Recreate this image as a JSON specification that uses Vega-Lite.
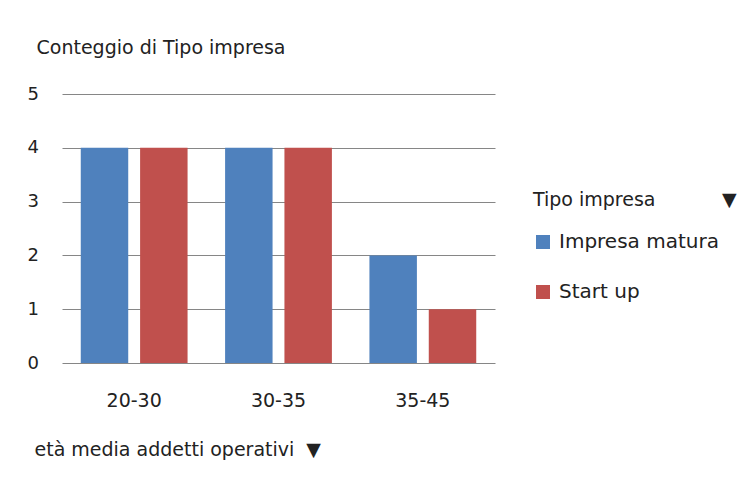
{
  "$schema": "https://vega.github.io/schema/vega-lite/v6.json",
  "width": 433,
  "height": 269,
  "autosize": {"type": "none"},
  "padding": {"left": 62, "top": 94, "right": 257, "bottom": 114},
  "background": "white",
  "data": {
    "values": [
      {"eta": "20-30", "tipo": "Impresa matura", "n": 4},
      {"eta": "20-30", "tipo": "Start up", "n": 4},
      {"eta": "30-35", "tipo": "Impresa matura", "n": 4},
      {"eta": "30-35", "tipo": "Start up", "n": 4},
      {"eta": "35-45", "tipo": "Impresa matura", "n": 2},
      {"eta": "35-45", "tipo": "Start up", "n": 1}
    ]
  },
  "mark": {"type": "bar"},
  "encoding": {
    "x": {
      "field": "eta",
      "type": "nominal",
      "sort": null,
      "scale": {"paddingInner": 0.26, "paddingOuter": 0.13},
      "axis": {
        "title": "età media addetti operativi\u00a0\u00a0▼",
        "titleFontWeight": "normal",
        "titleFontSize": 19,
        "titleColor": "#222",
        "titleAnchor": "start",
        "titleAlign": "left",
        "titleBaseline": "middle",
        "titleX": -28,
        "titleY": 86,
        "labelAngle": 0,
        "labelFontSize": 19,
        "labelColor": "#222",
        "labelPadding": 28,
        "domain": false,
        "ticks": false,
        "tickSize": 0
      }
    },
    "xOffset": {
      "field": "tipo",
      "type": "nominal",
      "sort": ["Impresa matura", "Start up"],
      "scale": {"paddingInner": 0.2}
    },
    "y": {
      "field": "n",
      "type": "quantitative",
      "scale": {"domain": [0, 5]},
      "axis": {
        "values": [0, 1, 2, 3, 4, 5],
        "title": "Conteggio di Tipo impresa",
        "titleFontWeight": "normal",
        "titleFontSize": 19,
        "titleColor": "#222",
        "titleAngle": 0,
        "titleAlign": "left",
        "titleBaseline": "middle",
        "titleX": -26,
        "titleY": -47,
        "labelFontSize": 18,
        "labelColor": "#222",
        "labelAlign": "left",
        "labelPadding": 35,
        "domain": false,
        "ticks": false,
        "tickSize": 0,
        "grid": true,
        "gridColor": "#868686",
        "gridWidth": 1
      }
    },
    "color": {
      "field": "tipo",
      "type": "nominal",
      "scale": {"domain": ["Impresa matura", "Start up"], "range": ["#4F81BD", "#C0504D"]},
      "legend": {
        "title": "Tipo impresa\u00a0\u00a0\u00a0\u00a0\u00a0\u00a0\u00a0\u00a0\u00a0\u00a0\u00a0▼",
        "titleFontWeight": "normal",
        "titleFontSize": 19,
        "titleColor": "#222",
        "titleLimit": 400,
        "labelFontSize": 20,
        "labelColor": "#222",
        "labelLimit": 400,
        "orient": "none",
        "legendX": 471,
        "legendY": 97,
        "symbolType": "square",
        "symbolSize": 196,
        "symbolStrokeWidth": 0,
        "rowPadding": 30,
        "titlePadding": 22,
        "labelOffset": 6
      }
    }
  },
  "config": {
    "font": "DejaVu Sans",
    "view": {"stroke": null}
  }
}
